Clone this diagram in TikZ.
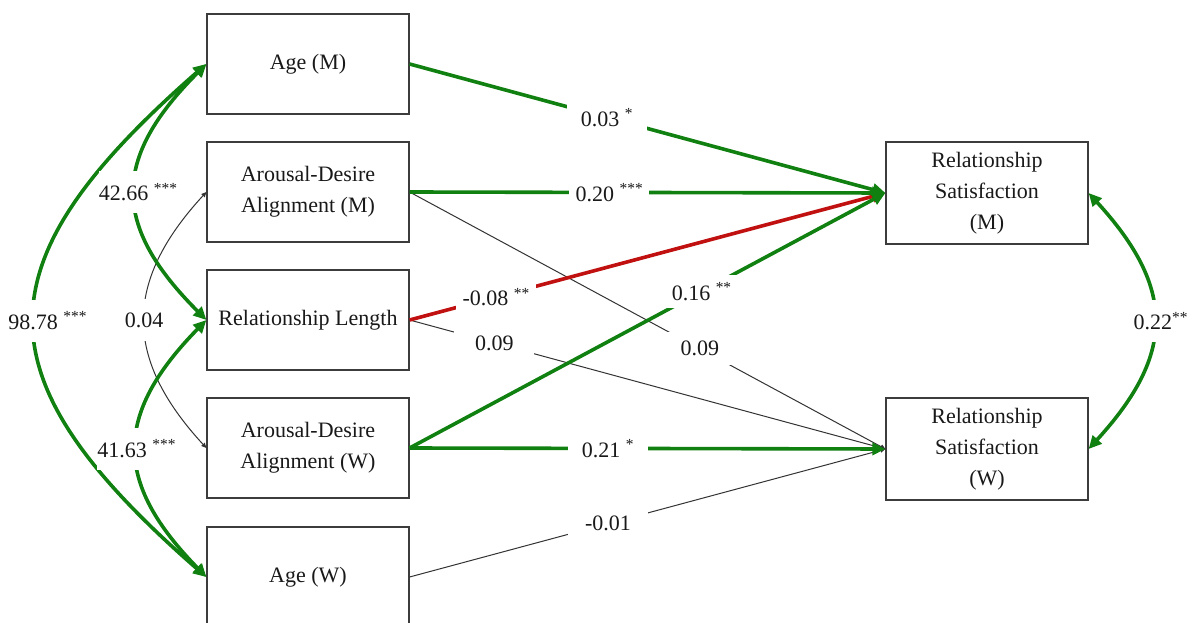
\documentclass[tikz,border=0pt]{standalone}
\usepackage{fontspec}
\setmainfont{Liberation Serif}
\usetikzlibrary{arrows.meta}
\definecolor{pathgreen}{RGB}{16,128,16}
\definecolor{pathred}{RGB}{192,16,16}
\definecolor{boxgray}{RGB}{60,60,60}
\definecolor{textgray}{RGB}{25,25,25}
\newcommand{\sigmark}[1]{\textsuperscript{#1}}
\begin{document}
\begin{tikzpicture}[x=1pt,y=-1pt,
  font=\fontsize{22}{31}\selectfont,
  varbox/.style={draw=boxgray, line width=1.2pt, minimum width=202pt, minimum height=100pt, align=center, inner sep=0pt, text=textgray},
  sigpath/.style={draw=pathgreen, line width=3.6pt, -{Triangle[length=13pt,width=12pt]}},
  negpath/.style={draw=pathred, line width=3.6pt, -{Triangle[length=13pt,width=12pt]}},
  nspath/.style={draw=black!80, line width=1pt, -{Triangle[length=5pt,width=4.5pt]}},
  sigcov/.style={draw=pathgreen, line width=3.6pt, {Triangle[length=13pt,width=12pt]}-{Triangle[length=13pt,width=12pt]}},
  nscov/.style={draw=black!80, line width=1pt, {Triangle[length=5pt,width=4.5pt]}-{Triangle[length=5pt,width=4.5pt]}},
  lab/.style={fill=white, inner sep=0pt, minimum width=80pt, minimum height=33pt, text=textgray},
  covlab/.style={fill=white, inner sep=0pt, minimum width=40pt, minimum height=42pt, text=textgray}
]
\useasboundingbox (0,0) rectangle (1192,623);
\clip (0,0) rectangle (1192,623);

% boxes
\node[varbox] (agem) at (308,64) {Age (M)};
\node[varbox] (adam) at (308,192) {Arousal-Desire\\Alignment (M)};
\node[varbox] (rl)   at (308,320) {Relationship Length};
\node[varbox] (adaw) at (308,448) {Arousal-Desire\\Alignment (W)};
\node[varbox] (agew) at (308,577) {Age (W)};
\node[varbox, minimum height=102pt] (rsm) at (987,193) {Relationship\\Satisfaction\\(M)};
\node[varbox, minimum height=102pt] (rsw) at (987,449) {Relationship\\Satisfaction\\(W)};

% non-significant paths
\draw[nspath] (adam.east) -- node[lab, pos=0.61] {0.09} (rsw.west);
\draw[nspath] (rl.east) -- node[lab, pos=0.178] {0.09} (rsw.west);
\draw[nspath] (agew.east) -- node[lab, pos=0.417] {-0.01} (rsw.west);

% significant paths
\draw[negpath] (rl.east) -- node[lab, pos=0.182] {-0.08~\sigmark{**}} (rsm.west);
\draw[sigpath] (agem.east) -- node[lab, pos=0.415] {0.03~\sigmark{*}} (rsm.west);
\draw[sigpath] (adam.east) -- node[lab, pos=0.42] {0.20~\sigmark{***}} (rsm.west);
\draw[sigpath] (adaw.east) -- node[lab, pos=0.614] {0.16~\sigmark{**}} (rsm.west);
\draw[sigpath] (adaw.east) -- node[lab, pos=0.417] {0.21~\sigmark{*}} (rsw.west);

% covariances
\draw[nscov] (adam.west) .. controls +(-83,90) and +(-83,-90) .. node[covlab, minimum width=36pt, pos=0.5] {0.04} (adaw.west);
\draw[sigcov] (agem.west) .. controls +(-229,200) and +(-229,-200) .. node[covlab, pos=0.5, xshift=13pt] {98.78~\sigmark{***}} (agew.west);
\draw[sigcov] (agem.west) .. controls +(-95,95) and +(-95,-95) .. node[covlab, pos=0.5, xshift=3pt] {42.66~\sigmark{***}} (rl.west);
\draw[sigcov] (rl.west) .. controls +(-93,95) and +(-93,-95) .. node[covlab, pos=0.5] {41.63~\sigmark{***}} (agew.west);
\draw[sigcov] (rsm.east) .. controls +(87,95) and +(87,-95) .. node[covlab, pos=0.5, xshift=7pt] {0.22\sigmark{**}} (rsw.east);
\end{tikzpicture}
\end{document}
